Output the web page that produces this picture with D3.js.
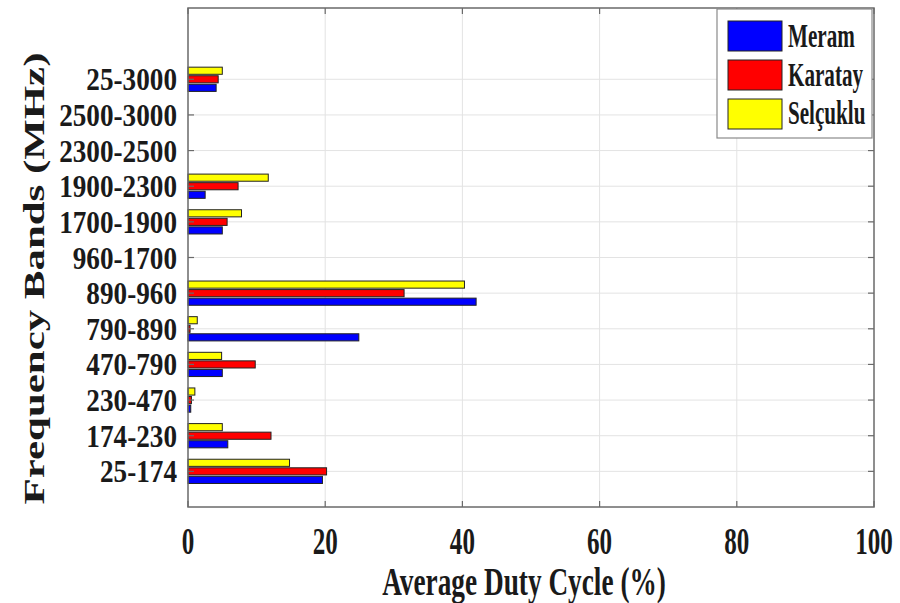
<!DOCTYPE html>
<html>
<head>
<meta charset="utf-8">
<script src="https://cdn.jsdelivr.net/npm/d3@7"></script>
<style>
  html, body { margin: 0; padding: 0; background: #fff; }
  svg { display: block; }
  text { font-family: "Liberation Serif", "Times New Roman", serif; font-weight: bold; fill: #1a1a1a; }
</style>
</head>
<body>
<svg id="chart" width="900" height="603"></svg>
<script>
// ---- data (bottom to top) ----
const categories = ["25-174", "174-230", "230-470", "470-790", "790-890", "890-960",
                    "960-1700", "1700-1900", "1900-2300", "2300-2500", "2500-3000", "25-3000"];
const seriesNames = ["Meram", "Karatay", "Selçuklu"];
const meram    = [19.6, 5.8, 0.4, 5.0, 24.9, 42.0, 0, 5.0, 2.5, 0, 0, 4.1];
const karatay  = [20.2, 12.1, 0.5, 9.8, 0.3, 31.5, 0, 5.7, 7.3, 0, 0, 4.4];
const selcuklu = [14.8, 5.0, 1.0, 4.9, 1.35, 40.3, 0, 7.8, 11.7, 0, 0, 5.0];
const seriesColors = ["#0000ff", "#ff0000", "#ffff00"];
const xTicks = [0, 20, 40, 60, 80, 100];
const xLabel = "Average Duty Cycle (%)";
const yLabel = "Frequency Bands (MHz)";

const series = [meram, karatay, selcuklu];

const svg = d3.select("#chart");
svg.append("rect").attr("width", 900).attr("height", 603).attr("fill", "#fff");

const pL = 188, pR = 874, pT = 8, pB = 507;
const x = d3.scaleLinear().domain([0, 100]).range([pL, pR]);
const y = d3.scaleLinear().domain([0, 14]).range([pB, pT]);

// grid
const grid = svg.append("g");
grid.selectAll("line.vg").data(xTicks.slice(1, -1)).join("line")
  .attr("x1", d => x(d)).attr("x2", d => x(d)).attr("y1", pT).attr("y2", pB)
  .attr("stroke", "#e3e3e3").attr("stroke-width", 1);
grid.selectAll("line.hg").data(categories).join("line")
  .attr("x1", pL).attr("x2", pR)
  .attr("y1", (d, i) => y(i + 1)).attr("y2", (d, i) => y(i + 1))
  .attr("stroke", "#e3e3e3").attr("stroke-width", 1);

// bars
const offsets = [-0.24, 0, 0.24];
const half = 0.1;
series.forEach((vals, s) => {
  svg.append("g").selectAll("rect").data(vals).join("rect")
    .attr("x", x(0))
    .attr("y", (d, i) => y(i + 1 + offsets[s] + half))
    .attr("height", (d, i) => y(i + 1 + offsets[s] - half) - y(i + 1 + offsets[s] + half))
    .attr("width", d => x(d) - x(0))
    .attr("fill", seriesColors[s])
    .attr("stroke", d => d > 0 ? "#222" : "none")
    .attr("stroke-width", 1);
});

// axes box & ticks
const axisColor = "#6a6a6a";
svg.append("rect").attr("x", pL).attr("y", pT).attr("width", pR - pL).attr("height", pB - pT)
  .attr("fill", "none").attr("stroke", axisColor).attr("stroke-width", 1.5);

const tl = 6;
const ticks = svg.append("g").attr("stroke", axisColor).attr("stroke-width", 1.2);
categories.forEach((c, i) => {
  ticks.append("line").attr("x1", pL).attr("x2", pL + tl).attr("y1", y(i + 1)).attr("y2", y(i + 1));
  ticks.append("line").attr("x1", pR).attr("x2", pR - tl).attr("y1", y(i + 1)).attr("y2", y(i + 1));
});
xTicks.forEach(t => {
  ticks.append("line").attr("x1", x(t)).attr("x2", x(t)).attr("y1", pB).attr("y2", pB - tl);
  ticks.append("line").attr("x1", x(t)).attr("x2", x(t)).attr("y1", pT).attr("y2", pT + tl);
});

// helper for horizontally compressed text
function scaledText(g, tx, ty, str, size, sx, anchor, rot) {
  const gg = g.append("g").attr("transform", `translate(${tx},${ty})` + (rot ? ` rotate(${rot})` : ""));
  gg.append("text").attr("transform", `scale(${sx},1)`)
    .attr("text-anchor", anchor).attr("font-size", size).text(str);
}

// y tick labels
const labels = svg.append("g");
categories.forEach((c, i) => scaledText(labels, 177, y(i + 1) + 11, c, 32, 0.85, "end"));
// x tick labels
xTicks.forEach(t => scaledText(labels, x(t), 554, String(t), 38, 0.66, "middle"));
// axis titles
scaledText(labels, 524, 595, xLabel, 39, 0.7, "middle");
scaledText(labels, 44, 278.5, yLabel, 30, 1.43, "middle", -90);

// legend
const lg = svg.append("g");
lg.append("rect").attr("x", 717).attr("y", 9).attr("width", 155).attr("height", 129)
  .attr("fill", "#fff").attr("stroke", "#8a8a8a").attr("stroke-width", 1.2);
const swY = [21, 60, 99];
const txY = [47, 86, 124];
seriesNames.forEach((n, s) => {
  lg.append("rect").attr("x", 728).attr("y", swY[s]).attr("width", 54).attr("height", 30)
    .attr("fill", seriesColors[s]).attr("stroke", "#222").attr("stroke-width", 1);
  scaledText(lg, 788, txY[s], n, 33, 0.64, "start");
});
</script>
</body>
</html>
